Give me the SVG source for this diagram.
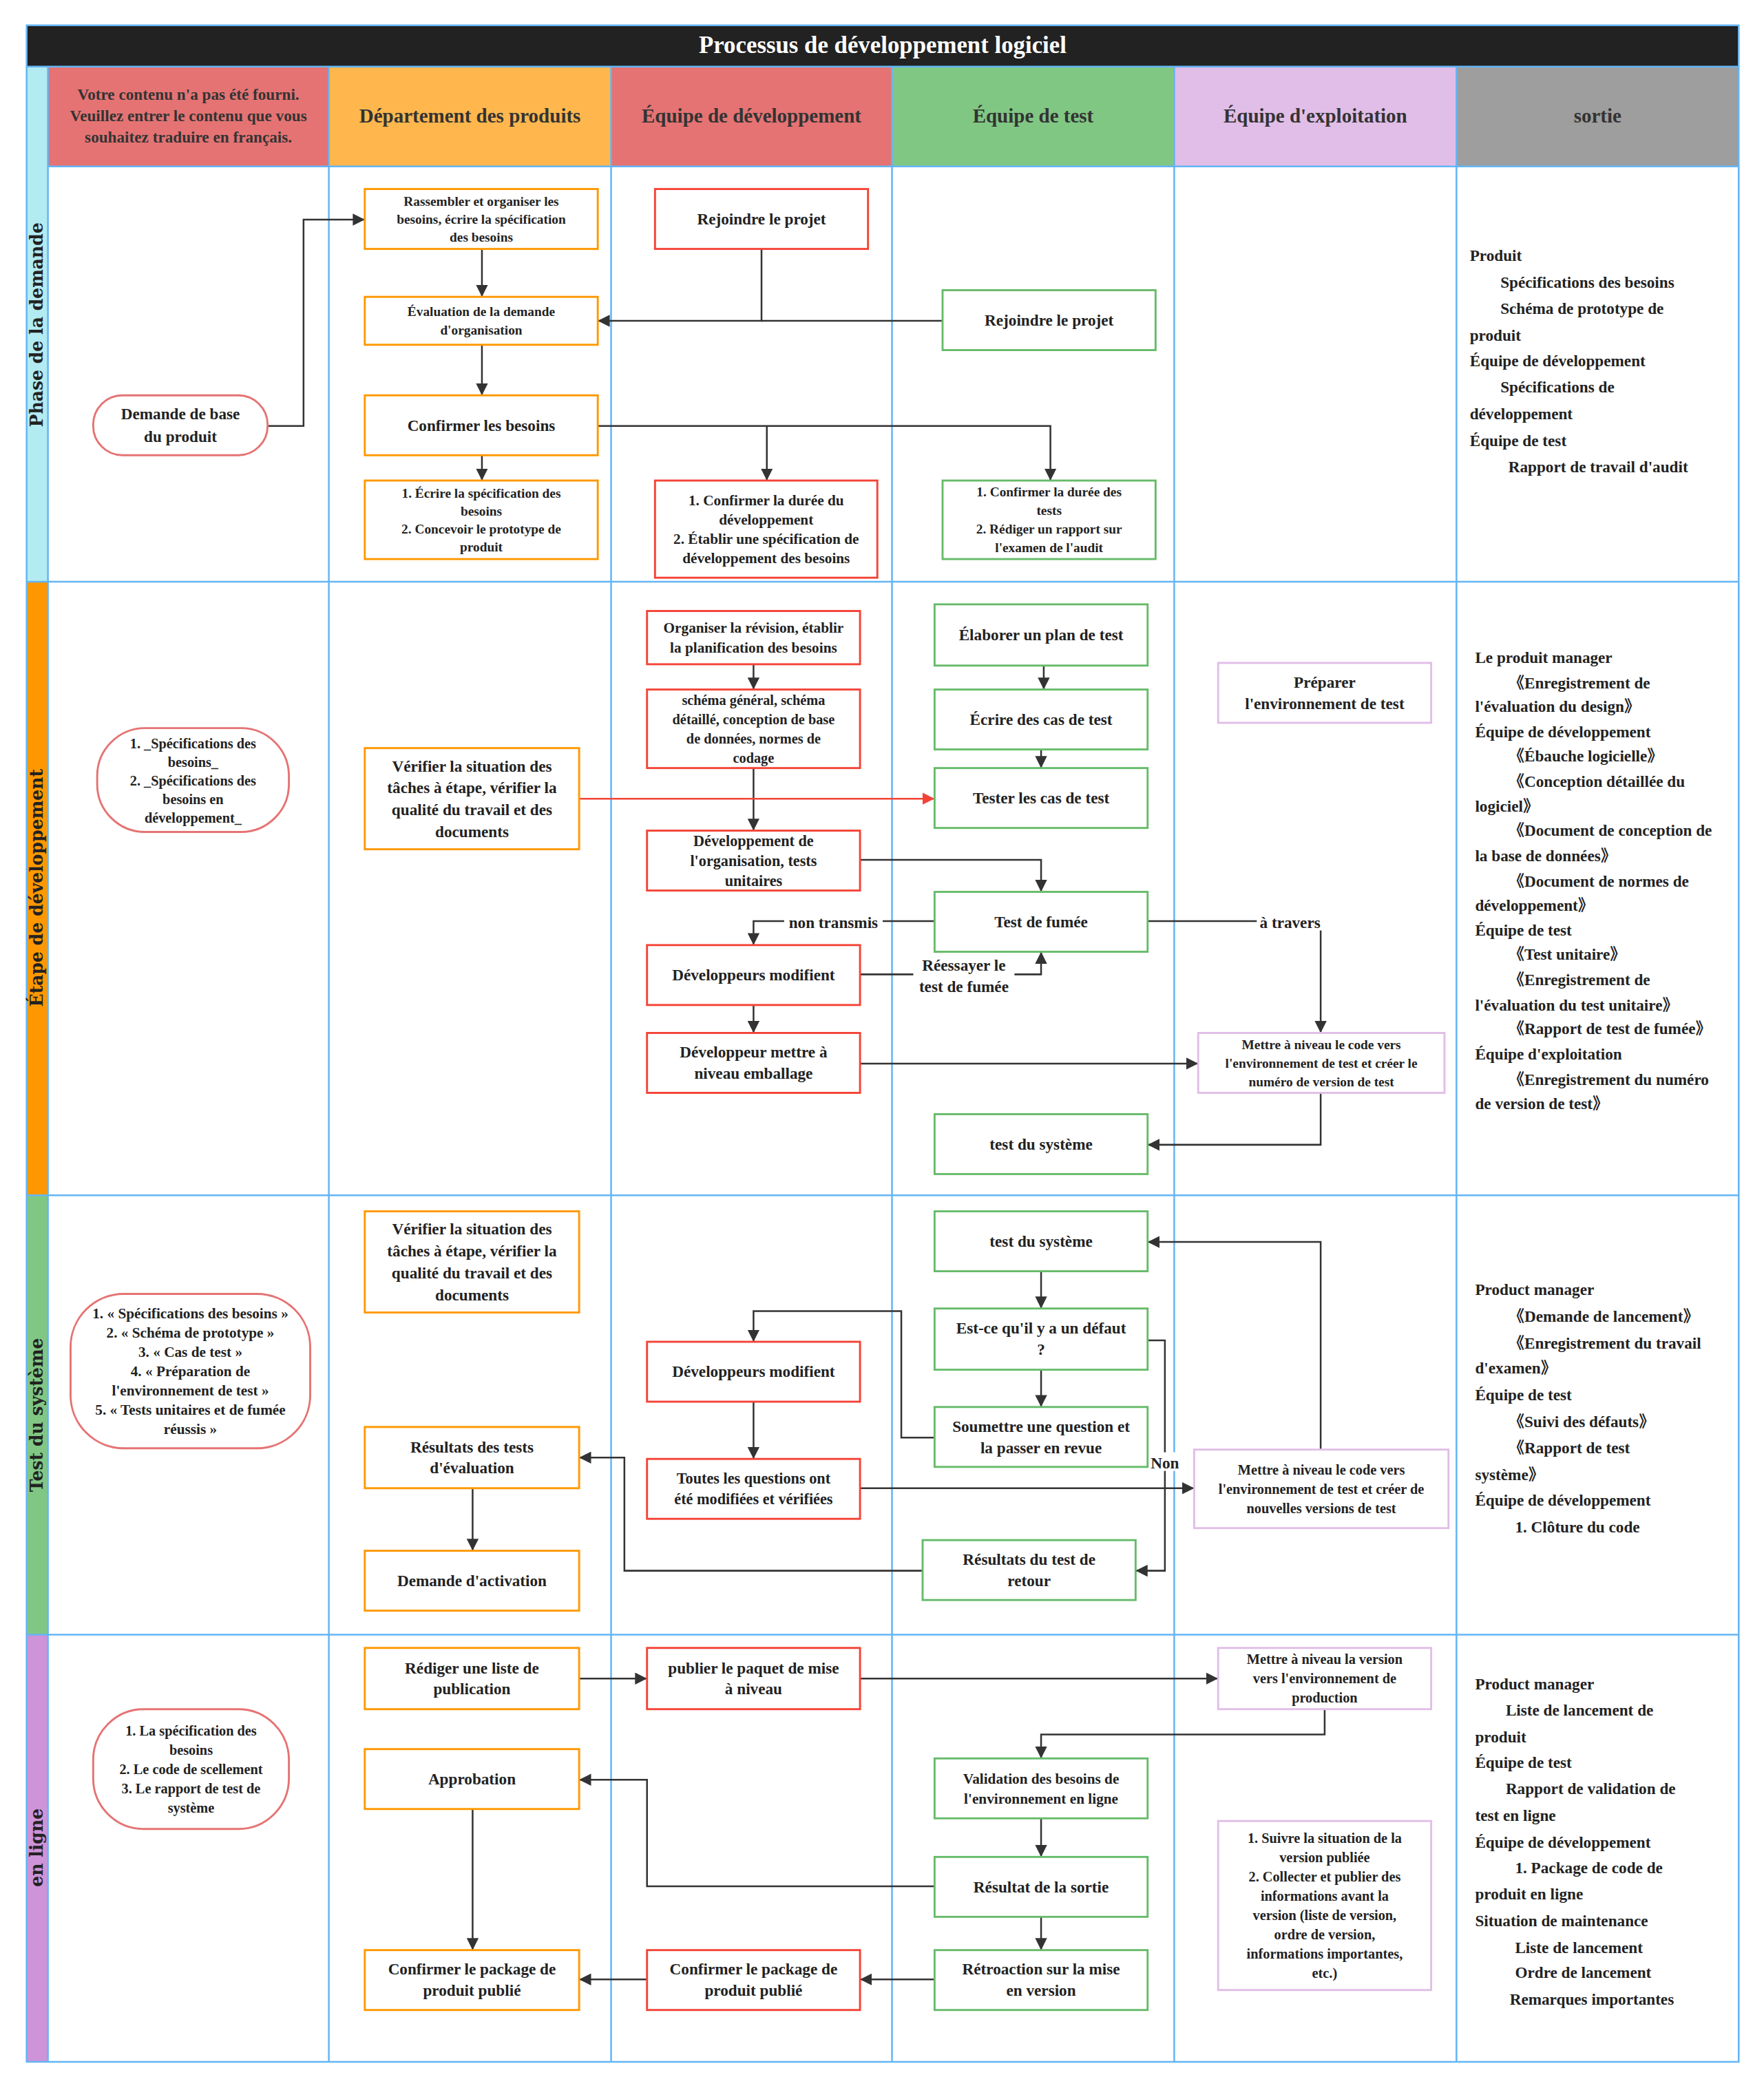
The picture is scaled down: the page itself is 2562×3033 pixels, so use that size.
<svg xmlns="http://www.w3.org/2000/svg" width="2562" height="3033" viewBox="0 0 2562 3033">
<style>
text{font-family:"Liberation Serif","DejaVu Serif","Noto Sans CJK SC",serif;font-weight:bold;fill:#222}
.n text,.c{text-anchor:middle}
.or{fill:#fff;stroke:#FF9800;stroke-width:1.5}
.rd{fill:#fff;stroke:#F44336;stroke-width:1.5}
.gr{fill:#fff;stroke:#66BB6A;stroke-width:1.5}
.pu{fill:#fff;stroke:#E1BEE7;stroke-width:1.5}
.pl{fill:#fff;stroke:#E57373;stroke-width:1.5}
.grid{stroke:#64B5F6;stroke-width:1.3;fill:none}
.cn path{fill:none;stroke:#333;stroke-width:1.3}
.lane{font-family:"DejaVu Serif",serif;font-size:13px;text-anchor:middle}
.out{font-size:12px}
.hd{font-size:15px;text-anchor:middle;fill:#333}
.lbl{font-size:12px;text-anchor:middle}
</style>
<defs>
<marker id="a" viewBox="0 0 10 10" refX="10" refY="5" markerWidth="9" markerHeight="9" markerUnits="userSpaceOnUse" orient="auto"><path d="M0,0L10,5L0,10z" fill="#333"/></marker>
<marker id="ar" viewBox="0 0 10 10" refX="10" refY="5" markerWidth="9" markerHeight="9" markerUnits="userSpaceOnUse" orient="auto"><path d="M0,0L10,5L0,10z" fill="#F44336"/></marker>
</defs>
<rect width="2562" height="3033" fill="#fff"/>
<g transform="scale(1.93358)">
<g id="frame">
<rect x="20" y="19" width="1286" height="31" fill="#222"/>
<text x="663" y="40" class="c" style="font-size:18px;fill:#fff">Processus de développement logiciel</text>
<rect x="36" y="50" width="211" height="75" fill="#E57373"/>
<rect x="247" y="50" width="212" height="75" fill="#FFB74D"/>
<rect x="459" y="50" width="211" height="75" fill="#E57373"/>
<rect x="670" y="50" width="212" height="75" fill="#81C784"/>
<rect x="882" y="50" width="212" height="75" fill="#E1BEE7"/>
<rect x="1094" y="50" width="212" height="75" fill="#9E9E9E"/>
<rect x="20" y="50" width="16" height="387" fill="#B2EBF2"/>
<rect x="20" y="437" width="16" height="461" fill="#FF9800"/>
<rect x="20" y="898" width="16" height="330" fill="#81C784"/>
<rect x="20" y="1228" width="16" height="321" fill="#CE93D8"/>
<text class="c" style="font-size:12px;fill:#333" x="141.5"><tspan x="141.5" y="75">Votre contenu n'a pas été fourni.</tspan><tspan x="141.5" y="91">Veuillez entrer le contenu que vous</tspan><tspan x="141.5" y="107">souhaitez traduire en français.</tspan></text>
<text class="hd" x="353" y="92">Département des produits</text>
<text class="hd" x="564.5" y="92">Équipe de développement</text>
<text class="hd" x="776" y="92">Équipe de test</text>
<text class="hd" x="988" y="92">Équipe d'exploitation</text>
<text class="hd" x="1200" y="92">sortie</text>
<path class="grid" d="M20,19H1306V1549H20Z M20,50H1306 M36,125H1306 M20,437H1306 M20,898H1306 M20,1228H1306 M36,50V1549 M247,50V1549 M459,50V1549 M670,50V1549 M882,50V1549 M1094,50V1549"/>
<text class="lane" transform="translate(32,244) rotate(-90)">Phase de la demande</text>
<text class="lane" transform="translate(32,667) rotate(-90)">Étape de développement</text>
<text class="lane" transform="translate(32,1063) rotate(-90)">Test du système</text>
<text class="lane" transform="translate(32,1388) rotate(-90)">en ligne</text>
</g>

<g id="outputs" class="out">
<text x="1104" y="196">Produit</text>
<text x="1127" y="216">Spécifications des besoins</text>
<text x="1127" y="236">Schéma de prototype de</text>
<text x="1104" y="256">produit</text>
<text x="1104" y="275">Équipe de développement</text>
<text x="1127" y="295">Spécifications de</text>
<text x="1104" y="315">développement</text>
<text x="1104" y="335">Équipe de test</text>
<text x="1133" y="355">Rapport de travail d'audit</text>

<text x="1108" y="498">Le produit manager</text>
<text x="1133" y="517">《Enregistrement de</text>
<text x="1108" y="535">l'évaluation du design》</text>
<text x="1108" y="554">Équipe de développement</text>
<text x="1133" y="572">《Ébauche logicielle》</text>
<text x="1133" y="591">《Conception détaillée du</text>
<text x="1108" y="610">logiciel》</text>
<text x="1133" y="628">《Document de conception de</text>
<text x="1108" y="647">la base de données》</text>
<text x="1133" y="666">《Document de normes de</text>
<text x="1108" y="684">développement》</text>
<text x="1108" y="703">Équipe de test</text>
<text x="1133" y="721">《Test unitaire》</text>
<text x="1133" y="740">《Enregistrement de</text>
<text x="1108" y="759">l'évaluation du test unitaire》</text>
<text x="1133" y="777">《Rapport de test de fumée》</text>
<text x="1108" y="796">Équipe d'exploitation</text>
<text x="1133" y="815">《Enregistrement du numéro</text>
<text x="1108" y="833">de version de test》</text>

<text x="1108" y="973">Product manager</text>
<text x="1133" y="993">《Demande de lancement》</text>
<text x="1133" y="1013">《Enregistrement du travail</text>
<text x="1108" y="1032">d'examen》</text>
<text x="1108" y="1052">Équipe de test</text>
<text x="1133" y="1072">《Suivi des défauts》</text>
<text x="1133" y="1092">《Rapport de test</text>
<text x="1108" y="1112">système》</text>
<text x="1108" y="1131">Équipe de développement</text>
<text x="1138" y="1151">1. Clôture du code</text>

<text x="1108" y="1269">Product manager</text>
<text x="1131" y="1289">Liste de lancement de</text>
<text x="1108" y="1309">produit</text>
<text x="1108" y="1328">Équipe de test</text>
<text x="1131" y="1348">Rapport de validation de</text>
<text x="1108" y="1368">test en ligne</text>
<text x="1108" y="1388">Équipe de développement</text>
<text x="1138" y="1407">1. Package de code de</text>
<text x="1108" y="1427">produit en ligne</text>
<text x="1108" y="1447">Situation de maintenance</text>
<text x="1138" y="1467">Liste de lancement</text>
<text x="1138" y="1486">Ordre de lancement</text>
<text x="1134" y="1506">Remarques importantes</text>
</g>

<g id="connectors" class="cn">
<path d="M201,320H228V165H274" marker-end="url(#a)"/>
<path d="M362,187V223" marker-end="url(#a)"/>
<path d="M362,259V297" marker-end="url(#a)"/>
<path d="M362,342V361" marker-end="url(#a)"/>
<path d="M572,187V241H449" marker-end="url(#a)"/>
<path d="M708,241H572"/>
<path d="M449,320H789V361" marker-end="url(#a)"/>
<path d="M576,320V361" marker-end="url(#a)"/>
<path d="M566,499V518" marker-end="url(#a)"/>
<path d="M566,577V624" marker-end="url(#a)"/>
<path d="M784,500V518" marker-end="url(#a)"/>
<path d="M782,563V577" marker-end="url(#a)"/>
<path d="M435,600H702" style="stroke:#F44336" marker-end="url(#ar)"/>
<path d="M646,646H782V670" marker-end="url(#a)"/>
<path d="M702,692H566V710" marker-end="url(#a)"/>
<path d="M646,732H782V715" marker-end="url(#a)"/>
<path d="M566,755V776" marker-end="url(#a)"/>
<path d="M646,799H900" marker-end="url(#a)"/>
<path d="M862,692H992V776" marker-end="url(#a)"/>
<path d="M992,821V860H862" marker-end="url(#a)"/>
<path d="M782,955V983" marker-end="url(#a)"/>
<path d="M782,1029V1057" marker-end="url(#a)"/>
<path d="M702,1080H677V985H566V1008" marker-end="url(#a)"/>
<path d="M566,1053V1096" marker-end="url(#a)"/>
<path d="M646,1118H897" marker-end="url(#a)"/>
<path d="M862,1007H875V1180H853" marker-end="url(#a)"/>
<path d="M693,1180H469V1095H435" marker-end="url(#a)"/>
<path d="M992,1089V933H862" marker-end="url(#a)"/>
<path d="M355,1118V1165" marker-end="url(#a)"/>
<path d="M435,1261H486" marker-end="url(#a)"/>
<path d="M646,1261H915" marker-end="url(#a)"/>
<path d="M995,1284V1303H782V1321" marker-end="url(#a)"/>
<path d="M782,1366V1395" marker-end="url(#a)"/>
<path d="M782,1440V1465" marker-end="url(#a)"/>
<path d="M702,1417H486V1337H435" marker-end="url(#a)"/>
<path d="M355,1359V1465" marker-end="url(#a)"/>
<path d="M702,1487H646" marker-end="url(#a)"/>
<path d="M486,1487H435" marker-end="url(#a)"/>
<rect x="589" y="685" width="74" height="14" fill="#fff"/>
<text class="lbl" x="626" y="697">non transmis</text>
<rect x="686" y="717" width="76" height="32" fill="#fff"/>
<text class="lbl" x="724" y="729">Réessayer le</text>
<text class="lbl" x="724" y="745">test de fumée</text>
<rect x="944" y="685" width="50" height="14" fill="#fff"/>
<text class="lbl" x="969" y="697">à travers</text>
<rect x="863" y="1091" width="24" height="14" fill="#fff"/>
<text class="lbl" x="875" y="1103">Non</text>
</g>

<g id="pill1" class="n"><rect class="pl" x="70" y="297" width="131" height="45" rx="22"/><text style="font-size:12px"><tspan x="135.5" y="315">Demande de base</tspan><tspan x="135.5" y="332">du produit</tspan></text></g>
<g id="a1" class="n"><rect class="or" x="274" y="142" width="175" height="45"/><text style="font-size:10px"><tspan x="361.5" y="154.5">Rassembler et organiser les</tspan><tspan x="361.5" y="168">besoins, écrire la spécification</tspan><tspan x="361.5" y="181.5">des besoins</tspan></text></g>
<g id="a2" class="n"><rect class="or" x="274" y="223" width="175" height="36"/><text style="font-size:10px"><tspan x="361.5" y="237.5">Évaluation de la demande</tspan><tspan x="361.5" y="251.5">d'organisation</tspan></text></g>
<g id="a3" class="n"><rect class="or" x="274" y="297" width="175" height="45"/><text style="font-size:12px" x="361.5" y="323.5">Confirmer les besoins</text></g>
<g id="a4" class="n"><rect class="or" x="274" y="361" width="175" height="59"/><text style="font-size:10px"><tspan x="361.5" y="373.8">1. Écrire la spécification des</tspan><tspan x="361.5" y="387.3">besoins</tspan><tspan x="361.5" y="400.8">2. Concevoir le prototype de</tspan><tspan x="361.5" y="414.3">produit</tspan></text></g>
<g id="b1" class="n"><rect class="rd" x="492" y="142" width="160" height="45"/><text style="font-size:12px" x="572" y="168.5">Rejoindre le projet</text></g>
<g id="b2" class="n"><rect class="rd" x="492" y="361" width="167" height="73"/><text style="font-size:11px"><tspan x="575.5" y="379.5">1. Confirmer la durée du</tspan><tspan x="575.5" y="394">développement</tspan><tspan x="575.5" y="408.5">2. Établir une spécification de</tspan><tspan x="575.5" y="423">développement des besoins</tspan></text></g>
<g id="c1" class="n"><rect class="gr" x="708" y="218" width="160" height="45"/><text style="font-size:12px" x="788" y="244.5">Rejoindre le projet</text></g>
<g id="c2" class="n"><rect class="gr" x="708" y="361" width="160" height="59"/><text style="font-size:10px"><tspan x="788" y="373">1. Confirmer la durée des</tspan><tspan x="788" y="387">tests</tspan><tspan x="788" y="401">2. Rédiger un rapport sur</tspan><tspan x="788" y="415">l'examen de l'audit</tspan></text></g>

<g id="pill2" class="n"><rect class="pl" x="73" y="547" width="144" height="78" rx="36"/><text style="font-size:10.5px"><tspan x="145" y="562">1. _Spécifications des</tspan><tspan x="145" y="576">besoins_</tspan><tspan x="145" y="590">2. _Spécifications des</tspan><tspan x="145" y="604">besoins en</tspan><tspan x="145" y="618">développement_</tspan></text></g>
<g id="p1" class="n"><rect class="or" x="274" y="562" width="161" height="76"/><text style="font-size:12px"><tspan x="354.5" y="579.5">Vérifier la situation des</tspan><tspan x="354.5" y="596">tâches à étape, vérifier la</tspan><tspan x="354.5" y="612.5">qualité du travail et des</tspan><tspan x="354.5" y="629">documents</tspan></text></g>
<g id="d1" class="n"><rect class="rd" x="486" y="459" width="160" height="40"/><text style="font-size:11px"><tspan x="566" y="475.3">Organiser la révision, établir</tspan><tspan x="566" y="490.3">la planification des besoins</tspan></text></g>
<g id="d2" class="n"><rect class="rd" x="486" y="518" width="160" height="59"/><text style="font-size:10.5px"><tspan x="566" y="529.5">schéma général, schéma</tspan><tspan x="566" y="544">détaillé, conception de base</tspan><tspan x="566" y="558.5">de données, normes de</tspan><tspan x="566" y="573">codage</tspan></text></g>
<g id="d3" class="n"><rect class="rd" x="486" y="624" width="160" height="45"/><text style="font-size:11.5px"><tspan x="566" y="635.5">Développement de</tspan><tspan x="566" y="650.5">l'organisation, tests</tspan><tspan x="566" y="665.5">unitaires</tspan></text></g>
<g id="d4" class="n"><rect class="rd" x="486" y="710" width="160" height="45"/><text style="font-size:12px" x="566" y="736.5">Développeurs modifient</text></g>
<g id="d5" class="n"><rect class="rd" x="486" y="776" width="160" height="45"/><text style="font-size:12px"><tspan x="566" y="794.5">Développeur mettre à</tspan><tspan x="566" y="810.5">niveau emballage</tspan></text></g>
<g id="t1" class="n"><rect class="gr" x="702" y="454" width="160" height="46"/><text style="font-size:12px" x="782" y="481">Élaborer un plan de test</text></g>
<g id="t2" class="n"><rect class="gr" x="702" y="518" width="160" height="45"/><text style="font-size:12px" x="782" y="544.5">Écrire des cas de test</text></g>
<g id="t3" class="n"><rect class="gr" x="702" y="577" width="160" height="45"/><text style="font-size:12px" x="782" y="603.5">Tester les cas de test</text></g>
<g id="t4" class="n"><rect class="gr" x="702" y="670" width="160" height="45"/><text style="font-size:12px" x="782" y="696.5">Test de fumée</text></g>
<g id="t5" class="n"><rect class="gr" x="702" y="837" width="160" height="45"/><text style="font-size:12px" x="782" y="863.5">test du système</text></g>
<g id="o1" class="n"><rect class="pu" x="915" y="498" width="160" height="45"/><text style="font-size:12px"><tspan x="995" y="516.5">Préparer</tspan><tspan x="995" y="532.5">l'environnement de test</tspan></text></g>
<g id="o2" class="n"><rect class="pu" x="900" y="776" width="185" height="45"/><text style="font-size:10px"><tspan x="992.5" y="788">Mettre à niveau le code vers</tspan><tspan x="992.5" y="802">l'environnement de test et créer le</tspan><tspan x="992.5" y="816">numéro de version de test</tspan></text></g>

<g id="pill3" class="n"><rect class="pl" x="53" y="972" width="180" height="116" rx="40"/><text style="font-size:11px"><tspan x="143" y="990.3">1. « Spécifications des besoins »</tspan><tspan x="143" y="1004.8">2. « Schéma de prototype »</tspan><tspan x="143" y="1019.3">3. « Cas de test »</tspan><tspan x="143" y="1033.8">4. « Préparation de</tspan><tspan x="143" y="1048.3">l'environnement de test »</tspan><tspan x="143" y="1062.8">5. « Tests unitaires et de fumée</tspan><tspan x="143" y="1077.3">réussis »</tspan></text></g>
<g id="p2" class="n"><rect class="or" x="274" y="910" width="161" height="76"/><text style="font-size:12px"><tspan x="354.5" y="927.5">Vérifier la situation des</tspan><tspan x="354.5" y="944">tâches à étape, vérifier la</tspan><tspan x="354.5" y="960.5">qualité du travail et des</tspan><tspan x="354.5" y="977">documents</tspan></text></g>
<g id="p3" class="n"><rect class="or" x="274" y="1072" width="161" height="46"/><text style="font-size:12px"><tspan x="354.5" y="1091">Résultats des tests</tspan><tspan x="354.5" y="1107">d'évaluation</tspan></text></g>
<g id="p4" class="n"><rect class="or" x="274" y="1165" width="161" height="45"/><text style="font-size:12px" x="354.5" y="1191.5">Demande d'activation</text></g>
<g id="d6" class="n"><rect class="rd" x="486" y="1008" width="160" height="45"/><text style="font-size:12px" x="566" y="1034.5">Développeurs modifient</text></g>
<g id="d7" class="n"><rect class="rd" x="486" y="1096" width="160" height="45"/><text style="font-size:11.5px"><tspan x="566" y="1114.5">Toutes les questions ont</tspan><tspan x="566" y="1130">été modifiées et vérifiées</tspan></text></g>
<g id="t6" class="n"><rect class="gr" x="702" y="910" width="160" height="45"/><text style="font-size:12px" x="782" y="936.5">test du système</text></g>
<g id="t7" class="n"><rect class="gr" x="702" y="983" width="160" height="46"/><text style="font-size:12px"><tspan x="782" y="1002">Est-ce qu'il y a un défaut</tspan><tspan x="782" y="1018">?</tspan></text></g>
<g id="t8" class="n"><rect class="gr" x="702" y="1057" width="160" height="45"/><text style="font-size:12px"><tspan x="782" y="1075.5">Soumettre une question et</tspan><tspan x="782" y="1091.5">la passer en revue</tspan></text></g>
<g id="t9" class="n"><rect class="gr" x="693" y="1157" width="160" height="45"/><text style="font-size:12px"><tspan x="773" y="1175.5">Résultats du test de</tspan><tspan x="773" y="1191.5">retour</tspan></text></g>
<g id="o3" class="n"><rect class="pu" x="897" y="1089" width="191" height="59"/><text style="font-size:10.5px"><tspan x="992.5" y="1107.7">Mettre à niveau le code vers</tspan><tspan x="992.5" y="1122.2">l'environnement de test et créer de</tspan><tspan x="992.5" y="1136.7">nouvelles versions de test</tspan></text></g>

<g id="pill4" class="n"><rect class="pl" x="70" y="1284" width="147" height="90" rx="38"/><text style="font-size:10.5px"><tspan x="143.5" y="1303.7">1. La spécification des</tspan><tspan x="143.5" y="1318.2">besoins</tspan><tspan x="143.5" y="1332.7">2. Le code de scellement</tspan><tspan x="143.5" y="1347.2">3. Le rapport de test de</tspan><tspan x="143.5" y="1361.7">système</tspan></text></g>
<g id="p5" class="n"><rect class="or" x="274" y="1238" width="161" height="46"/><text style="font-size:12px"><tspan x="354.5" y="1257">Rédiger une liste de</tspan><tspan x="354.5" y="1273">publication</tspan></text></g>
<g id="p6" class="n"><rect class="or" x="274" y="1314" width="161" height="45"/><text style="font-size:12px" x="354.5" y="1340.5">Approbation</text></g>
<g id="p7" class="n"><rect class="or" x="274" y="1465" width="161" height="45"/><text style="font-size:12px"><tspan x="354.5" y="1483.5">Confirmer le package de</tspan><tspan x="354.5" y="1499.5">produit publié</tspan></text></g>
<g id="d8" class="n"><rect class="rd" x="486" y="1238" width="160" height="46"/><text style="font-size:12px"><tspan x="566" y="1257">publier le paquet de mise</tspan><tspan x="566" y="1273">à niveau</tspan></text></g>
<g id="d9" class="n"><rect class="rd" x="486" y="1465" width="160" height="45"/><text style="font-size:12px"><tspan x="566" y="1483.5">Confirmer le package de</tspan><tspan x="566" y="1499.5">produit publié</tspan></text></g>
<g id="t10" class="n"><rect class="gr" x="702" y="1321" width="160" height="45"/><text style="font-size:11px"><tspan x="782" y="1339.8">Validation des besoins de</tspan><tspan x="782" y="1354.8">l'environnement en ligne</tspan></text></g>
<g id="t11" class="n"><rect class="gr" x="702" y="1395" width="160" height="45"/><text style="font-size:12px" x="782" y="1421.5">Résultat de la sortie</text></g>
<g id="t12" class="n"><rect class="gr" x="702" y="1465" width="160" height="45"/><text style="font-size:12px"><tspan x="782" y="1483.5">Rétroaction sur la mise</tspan><tspan x="782" y="1499.5">en version</tspan></text></g>
<g id="o4" class="n"><rect class="pu" x="915" y="1238" width="160" height="46"/><text style="font-size:10.5px"><tspan x="995" y="1250.2">Mettre à niveau la version</tspan><tspan x="995" y="1264.7">vers l'environnement de</tspan><tspan x="995" y="1279.2">production</tspan></text></g>
<g id="o5" class="n"><rect class="pu" x="915" y="1368" width="160" height="127"/><text style="font-size:10.5px"><tspan x="995" y="1384.5">1. Suivre la situation de la</tspan><tspan x="995" y="1399">version publiée</tspan><tspan x="995" y="1413.5">2. Collecter et publier des</tspan><tspan x="995" y="1428">informations avant la</tspan><tspan x="995" y="1442.5">version (liste de version,</tspan><tspan x="995" y="1457">ordre de version,</tspan><tspan x="995" y="1471.5">informations importantes,</tspan><tspan x="995" y="1486">etc.)</tspan></text></g>
</g>
</svg>
